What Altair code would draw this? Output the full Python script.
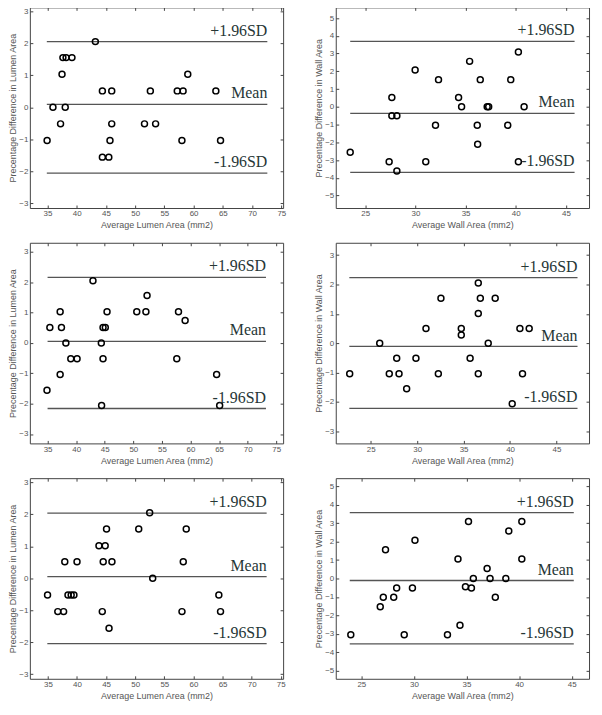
import altair as alt
import pandas as pd

LABELS = ["+1.96SD", "Mean", "-1.96SD"]

# ---------- Panel 1 (Lumen, top) ----------
p1_x = [43.2, 37.65, 38.2, 39.2, 37.5, 44.4, 46.0, 52.6, 57.2, 58.2, 63.8, 59.0,
        35.95, 38.05, 37.25, 46.0, 51.6, 53.5, 34.95, 45.7, 58.0, 64.6, 44.4, 45.5]
p1_y = [2.05, 1.55, 1.55, 1.55, 1.03, 0.51, 0.51, 0.51, 0.51, 0.51, 0.51, 1.03,
        0.0, 0.0, -0.52, -0.52, -0.52, -0.52, -1.04, -1.04, -1.04, -1.04, -1.56, -1.56]
p1_lines = [2.05, 0.09, -2.06]
p1_span = [34.9, 72.6]

# ---------- Panel 2 (Wall, top) ----------
p2_x = [23.5, 27.38, 28.15, 27.65, 27.65, 28.15, 29.97, 31.03, 32.0, 32.3, 34.3, 34.6,
        35.4, 36.16, 36.2, 36.46, 37.15, 37.3, 39.2, 39.5, 40.26, 40.26, 40.83]
p2_y = [-2.56, -3.09, -3.61, 0.52, -0.5, -0.5, 2.07, -3.09, -1.04, 1.53, 0.52, 0.0,
        2.56, -1.04, -2.11, 1.53, 0.0, 0.0, -1.04, 1.53, 3.09, -3.09, 0.0]
p2_lines = [3.69, -0.37, -3.69]
p2_span = [23.5, 45.86]

# ---------- Panel 3 (Lumen, middle) ----------
p3_x = [42.94, 37.2, 37.43, 35.4, 38.2, 39.06, 40.16, 37.2, 34.9, 44.4, 44.7, 45.1,
        44.7, 45.4, 44.45, 50.6, 52.2, 52.4, 57.9, 59.06, 57.6, 64.57, 65.1]
p3_y = [2.05, 1.03, 0.51, 0.51, 0.0, -0.52, -0.52, -1.04, -1.56, 0.0, 0.51, 0.51,
        -0.52, 1.03, -2.06, 1.03, 1.03, 1.56, 1.03, 0.74, -0.52, -1.04, -2.06]
p3_lines = [2.16, 0.05, -2.16]
p3_span = [35.0, 73.2]

# ---------- Panel 4 (Wall, middle) ----------
p4_x = [22.74, 25.97, 27.0, 27.8, 28.05, 28.87, 29.87, 30.95, 32.28, 32.56, 34.75, 34.75,
        35.7, 36.58, 36.58, 36.8, 36.58, 37.65, 38.4, 40.23, 41.06, 42.06, 41.34]
p4_y = [-1.04, 0.0, -1.04, -0.51, -1.04, -1.55, -0.51, 0.5, -1.04, 1.53, 0.5, 0.28,
        -0.51, 2.05, 1.01, 1.53, -1.04, 0.0, 1.53, -2.06, 0.5, 0.5, -1.04]
p4_lines = [2.23, -0.11, -2.22]
p4_span = [22.7, 47.26]

# ---------- Panel 5 (Lumen, bottom) ----------
p5_x = [52.48, 45.07, 50.6, 58.76, 43.77, 44.84, 37.9, 40.0, 44.5, 46.0, 58.25, 53.0,
        34.94, 38.45, 39.0, 39.47, 64.36, 36.7, 37.7, 44.34, 58.03, 64.65, 45.5]
p5_y = [2.05, 1.54, 1.54, 1.54, 1.02, 1.02, 0.52, 0.52, 0.52, 0.52, 0.52, 0.0,
        -0.52, -0.52, -0.52, -0.52, -0.52, -1.04, -1.04, -1.04, -1.04, -1.04, -1.56]
p5_lines = [2.04, 0.05, -2.04]
p5_span = [34.9, 72.57]

# ---------- Panel 6 (Wall, bottom) ----------
p6_x = [24.0, 26.8, 27.09, 28.08, 27.3, 28.36, 29.08, 29.86, 30.1, 33.19, 34.19, 34.38,
        34.9, 35.47, 35.19, 35.65, 36.96, 37.24, 37.74, 38.74, 39.02, 40.26, 40.26]
p6_y = [-3.06, -1.54, -1.02, -1.02, 1.56, -0.52, -3.06, -0.52, 2.08, -3.06, 1.06, -2.54,
        -0.45, -0.52, 3.1, 0.0, 0.54, 0.0, -1.02, 0.0, 2.58, 3.1, 1.06]
p6_lines = [3.58, -0.11, -3.55]
p6_span = [23.9, 45.2]

lumen_xticks = [35, 40, 45, 50, 55, 60, 65, 70, 75]
wall_xticks = [25, 30, 35, 40, 45]
ticks3 = [-3, -2, -1, 0, 1, 2, 3]
ticks5 = [-5, -4, -3, -2, -1, 0, 1, 2, 3, 4, 5]

LUMEN_X = "Average Lumen Area (mm2)"
LUMEN_Y = "Precentage Difference in Lumen Area"
WALL_X = "Average Wall Area (mm2)"
WALL_Y = "Precentage Difference in Wall Area"

W, H = 255, 202
TICK = dict(domain=False, grid=False, tickSize=3, offset=-3, tickColor="#444", tickWidth=1)


def panel(px, py, lines, span, xdom, ydom, xticks, yticks, xtitle, ytitle):
    pts = pd.DataFrame({"x": px, "y": py})
    ln = pd.DataFrame({"y": lines, "xa": [span[0]] * 3, "xb": [span[1]] * 3, "label": LABELS})
    xs = alt.Scale(domain=xdom, nice=False, zero=False)
    ys = alt.Scale(domain=ydom, nice=False, zero=False)

    rules = alt.Chart(ln).mark_rule(color="#555555", strokeWidth=1.3).encode(
        x=alt.X("xa:Q", scale=xs, axis=alt.Axis(values=xticks, title=xtitle, orient="bottom",
                                                  labelPadding=2, titlePadding=3, **TICK)),
        x2="xb:Q",
        y=alt.Y("y:Q", scale=ys, axis=alt.Axis(values=yticks, title=ytitle, orient="left",
                                                 labelPadding=2, titlePadding=1, **TICK)),
    )
    points = alt.Chart(pts).mark_point(shape="circle", filled=False, color="black",
                                       size=36, strokeWidth=1.5, opacity=1).encode(
        x=alt.X("x:Q", scale=xs, axis=alt.Axis(values=xticks, title=None, orient="top",
                                                 labels=False, **TICK)),
        y=alt.Y("y:Q", scale=ys, axis=alt.Axis(values=yticks, title=None, orient="right",
                                                 labels=False, **TICK)),
    )
    texts = alt.Chart(ln).mark_text(align="right", baseline="bottom", dy=-3,
                                    font="Liberation Serif", fontSize=16,
                                    color="#263636").encode(
        x=alt.X("xb:Q", scale=xs, axis=None),
        y=alt.Y("y:Q", scale=ys, axis=None),
        text="label:N",
    )
    return alt.layer(rules, points, texts).resolve_axis(x="independent", y="independent").properties(
        width=W, height=H)


c1 = panel(p1_x, p1_y, p1_lines, p1_span, [32.0, 75.3], [-3.15, 3.12], lumen_xticks, ticks3, LUMEN_X, LUMEN_Y)
c2 = panel(p2_x, p2_y, p2_lines, p2_span, [22.06, 47.3], [-5.7, 5.6], wall_xticks, ticks5, WALL_X, WALL_Y)
c3 = panel(p3_x, p3_y, p3_lines, p3_span, [31.9, 76.2], [-3.31, 3.3], lumen_xticks, ticks3, LUMEN_X, LUMEN_Y)
c4 = panel(p4_x, p4_y, p4_lines, p4_span, [21.24, 48.5], [-3.41, 3.42], wall_xticks, ticks3, WALL_X, WALL_Y)
c5 = panel(p5_x, p5_y, p5_lines, p5_span, [31.9, 75.4], [-3.14, 3.13], lumen_xticks, ticks3, LUMEN_X, LUMEN_Y)
c6 = panel(p6_x, p6_y, p6_lines, p6_span, [22.57, 46.65], [-5.45, 5.45], wall_xticks, ticks5, WALL_X, WALL_Y)

chart = alt.concat(c1, c2, c3, c4, c5, c6, columns=2,
                   spacing={"row": 35, "column": 53}, bounds="flush").properties(
    padding={"top": -4, "left": 0, "right": 4, "bottom": 0},
    background="white",
).configure_view(stroke="#444444", strokeWidth=1).configure_axis(
    labelFont="Liberation Sans", labelFontSize=8, labelColor="#555555",
    titleFont="Liberation Sans", titleFontSize=9, titleColor="#555555", titleFontWeight="normal",
)

chart.save("out.html", embed_options={"renderer": "svg", "actions": False})
